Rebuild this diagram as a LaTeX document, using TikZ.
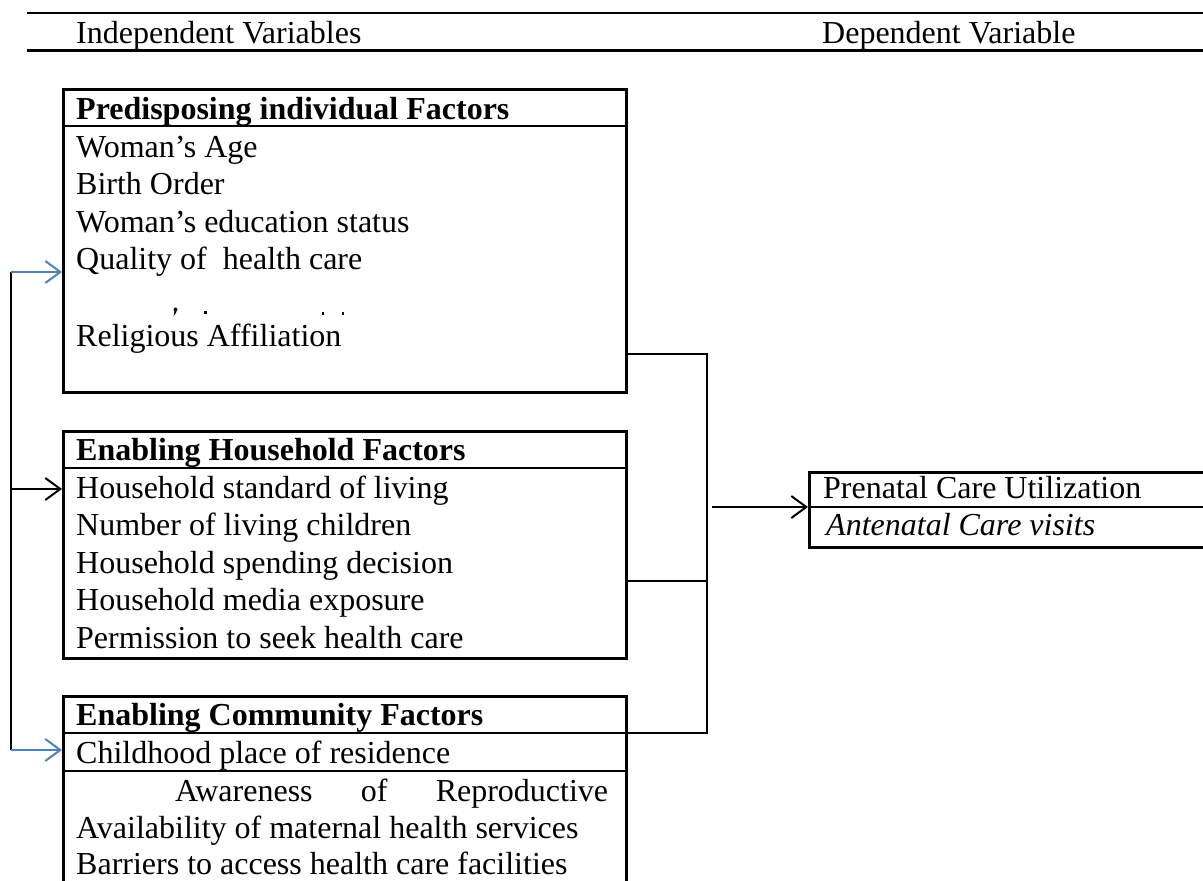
\documentclass[tikz,border=0pt]{standalone}
\usepackage{fontspec}
\setmainfont{Liberation Serif}
\usetikzlibrary{arrows.meta}
\definecolor{linkblue}{RGB}{79,129,189}
\begin{document}
\begin{tikzpicture}[x=1pt,y=-1pt,
  txt/.style={anchor=base west, inner sep=0pt, font=\fontsize{32}{38}\selectfont},
  hdr/.style={txt, font=\fontsize{32}{38}\selectfont\bfseries},
  frame/.style={draw, line width=2.6pt, rectangle, inner sep=0pt, anchor=north west},
  rule/.style={line width=2.6pt},
  link/.style={line width=2.2pt},
  tip/.style={-{Straight Barb[length=15pt,width=22pt,line width=2pt]}},
  bluelink/.style={link, linkblue, tip}
]
\useasboundingbox (0,0) rectangle (1203,881);

% title band
\draw[rule] (27,13) -- (1210,13);
\draw[rule] (27,50.5) -- (1210,50.5);
\node[txt] (indep) at (76,43) {Independent Variables};
\node[txt] (dep) at (822,43) {Dependent Variable};

% predisposing factors
\node[frame, minimum width=563, minimum height=303] (b1) at (62,88) {};
\draw[rule] (b1.west |- 0,126) -- (b1.east |- 0,126);
\node[hdr] (b1h) at (76,119) {Predisposing individual Factors};
\node[txt] (b1a) at (76,157) {Woman’s Age};
\node[txt] (b1b) at (76,194.5) {Birth Order};
\node[txt] (b1c) at (76,232) {Woman’s education status};
\node[txt] (b1d) at (76,269.5) {Quality of\ \ health care};
\node[txt] (b1f) at (76,346) {Religious Affiliation};
% remnants of a covered line
\fill (175.5,309.5) circle (2);
\fill (176.8,309.5) -- (176,313) -- (173.5,316) -- (174.5,311) -- cycle;
\fill (203.5,311) rectangle (206.5,314);
\fill (322,312) rectangle (323.5,315);
\fill (342,312) rectangle (343.5,315);

% household factors
\node[frame, minimum width=563, minimum height=227] (b2) at (62,430) {};
\draw[rule] (b2.west |- 0,468) -- (b2.east |- 0,468);
\node[hdr] (b2h) at (76,460) {Enabling Household Factors};
\node[txt] (b2a) at (76,498) {Household standard of living};
\node[txt] (b2b) at (76,535.5) {Number of living children};
\node[txt] (b2c) at (76,573) {Household spending decision};
\node[txt] (b2d) at (76,610.5) {Household media exposure};
\node[txt] (b2e) at (76,648) {Permission to seek health care};

% community factors
\node[frame, minimum width=563, minimum height=260] (b3) at (62,695) {};
\draw[rule] (b3.west |- 0,733) -- (b3.east |- 0,733);
\draw[rule] (b3.west |- 0,771) -- (b3.east |- 0,771);
\node[hdr] (b3h) at (76,725) {Enabling Community Factors};
\node[txt] (b3a) at (76,763) {Childhood place of residence};
\node[txt] (b3b) at (175,801) {\makebox[433pt][s]{Awareness\hfill of\hfill Reproductive}};
\node[txt] (b3c) at (76,838) {Availability of maternal health services};
\node[txt] (b3d) at (76,874.5) {Barriers to access health care facilities};

% outcome
\node[frame, minimum width=420, minimum height=75] (b4) at (808,471) {};
\draw[rule] (b4.west |- 0,507) -- (b4.east |- 0,507);
\node[txt] (b4a) at (823,498) {Prenatal Care Utilization};
\node[txt] (b4b) at (826,535) {\itshape Antenatal Care visits};

% joining the three groups
\coordinate (j1) at (707,354);
\coordinate (j2) at (707,581);
\coordinate (j3) at (707,733);
\draw[link] (b1.east |- j1) -- (j1) -- (j3) -- (b3.east |- j3);
\draw[link] (b2.east |- j2) -- (j2);
\coordinate (out) at (712,507);
\draw[link, tip] (out) -- (b4.west |- out);

% feedback bus on the left
\coordinate (s1) at (11,272);
\coordinate (s2) at (11,489);
\coordinate (s3) at (11,750);
\draw[link] (s1) -- (s3);
\draw[bluelink] (s1) -- (b1.west |- s1);
\draw[link, tip] (s2) -- (b2.west |- s2);
\draw[bluelink] (s3) -- (b3.west |- s3);
\end{tikzpicture}
\end{document}
